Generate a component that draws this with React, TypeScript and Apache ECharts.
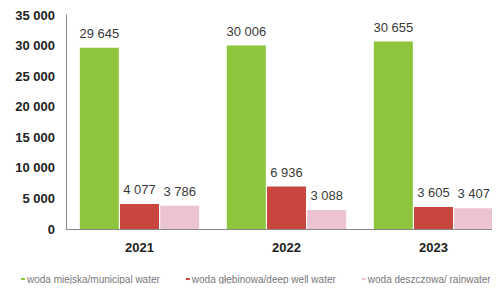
import React, { useEffect, useRef } from "react";
import * as echarts from "echarts";

const categories = ["2021", "2022", "2023"];
const seriesNames = [
  "woda miejska/municipal water",
  "woda głębinowa/deep well water",
  "woda deszczowa/ rainwater",
];
const municipal = [29645, 30006, 30655];
const deepWell = [4077, 6936, 3605];
const rain = [3786, 3088, 3407];
const colors = ["#8fc53c", "#c9463f", "#ebc3d3"];

const fmt = (v: number) => String(v).replace(/\B(?=(\d{3})+(?!\d))/g, " ");

export default function App() {
  const ref = useRef<HTMLDivElement>(null);
  useEffect(() => {
    if (!ref.current) return;
    const chart = echarts.init(ref.current, null, { renderer: "svg" });
    const label = {
      show: true,
      position: "top" as const,
      distance: 8,
      color: "#3a3a3a",
      fontSize: 13,
      fontFamily: "Liberation Sans, Arial, sans-serif",
      formatter: (p: any) => fmt(p.value),
    };
    const data = [municipal, deepWell, rain];
    chart.setOption({
      animation: false,
      textStyle: { fontFamily: "Liberation Sans, Arial, sans-serif" },
      grid: { left: 66, top: 15, bottom: 63, width: 441, outerBoundsMode: "none", containLabel: false },
      legend: {
        left: 21,
        top: 274,
        width: 480,
        padding: 0,
        itemWidth: 4,
        itemHeight: 2,
        itemGap: 26,
        icon: "rect",
        textStyle: { fontSize: 10, color: "#777", padding: [0, 0, 0, -3] },
        data: seriesNames,
      },
      xAxis: {
        type: "category",
        data: categories,
        axisLine: { lineStyle: { color: "#888", width: 1 } },
        axisTick: { show: false },
        axisLabel: { fontWeight: "bold", fontSize: 13, color: "#222", margin: 12 },
      },
      yAxis: {
        type: "value",
        min: 0,
        max: 35000,
        interval: 5000,
        splitLine: { show: false },
        axisLine: { show: true, lineStyle: { color: "#888", width: 1 } },
        axisTick: { show: false },
        axisLabel: {
          fontWeight: "bold",
          fontSize: 13,
          color: "#222",
          margin: 11,
          formatter: (v: number) => fmt(v),
        },
      },
      series: seriesNames.map((name, i) => ({
        name,
        type: "bar",
        data: data[i],
        barWidth: 39,
        barGap: "3%",
        itemStyle: { color: colors[i] },
        label,
      })),
    });
    return () => chart.dispose();
  }, []);
  return <div ref={ref} style={{ width: 500, height: 292, margin: -8 }} />;
}
